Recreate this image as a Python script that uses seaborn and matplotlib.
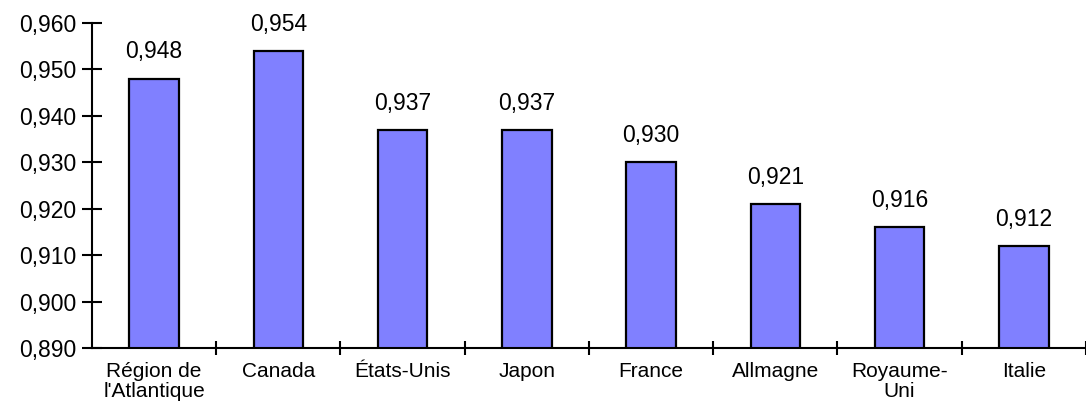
import matplotlib
matplotlib.use("Agg")
import matplotlib.pyplot as plt
from matplotlib.ticker import FuncFormatter, FixedLocator, MultipleLocator
import seaborn as sns
import pandas as pd

categories = ["Région de\nl'Atlantique", "Canada", "États-Unis", "Japon",
              "France", "Allmagne", "Royaume-\nUni", "Italie"]
values = [0.948, 0.954, 0.937, 0.937, 0.930, 0.921, 0.916, 0.912]

sns.set_theme(style="white")
plt.rcParams["font.family"] = ["Liberation Sans", "DejaVu Sans"]

df = pd.DataFrame({"pays": categories, "indice": values})

fig = plt.figure(figsize=(10.86, 4.08), dpi=100)
ax = fig.add_axes([0.0847, 0.147, 0.9153, 0.7966])

sns.barplot(data=df, x="pays", y="indice", color="#8080FF", saturation=1,
            edgecolor="black", linewidth=1.6, width=0.4, ax=ax)

ax.set_ylim(0.890, 0.960)
ax.set_xlim(-0.5, len(categories) - 0.5)
ax.yaxis.set_major_locator(MultipleLocator(0.01))
ax.yaxis.set_major_formatter(FuncFormatter(lambda v, p: f"{v:.3f}".replace(".", ",")))

for i, v in enumerate(values):
    ax.annotate(f"{v:.3f}".replace(".", ","), (i, v), xytext=(0, 11),
                textcoords="offset points", ha="center", va="bottom",
                fontsize=16.5, color="black")

for side in ("top", "right"):
    ax.spines[side].set_visible(False)
for side in ("left", "bottom"):
    ax.spines[side].set_linewidth(1.5)
    ax.spines[side].set_color("black")

# category separators as ticks between bars
ax.xaxis.set_minor_locator(FixedLocator([i + 0.5 for i in range(len(categories))]))
ax.tick_params(axis="x", which="major", length=0, pad=10, labelsize=15, colors="black")
ax.tick_params(axis="x", which="minor", direction="inout", length=10, width=1.5,
               color="black", bottom=True)
ax.tick_params(axis="y", which="major", direction="inout", length=14, width=1.5,
               color="black", left=True, pad=4, labelsize=16.5, labelcolor="black")
ax.set_xlabel("")
ax.set_ylabel("")
for lbl in ax.get_xticklabels():
    lbl.set_linespacing(1.1)

fig.savefig("out.png", dpi=100)
